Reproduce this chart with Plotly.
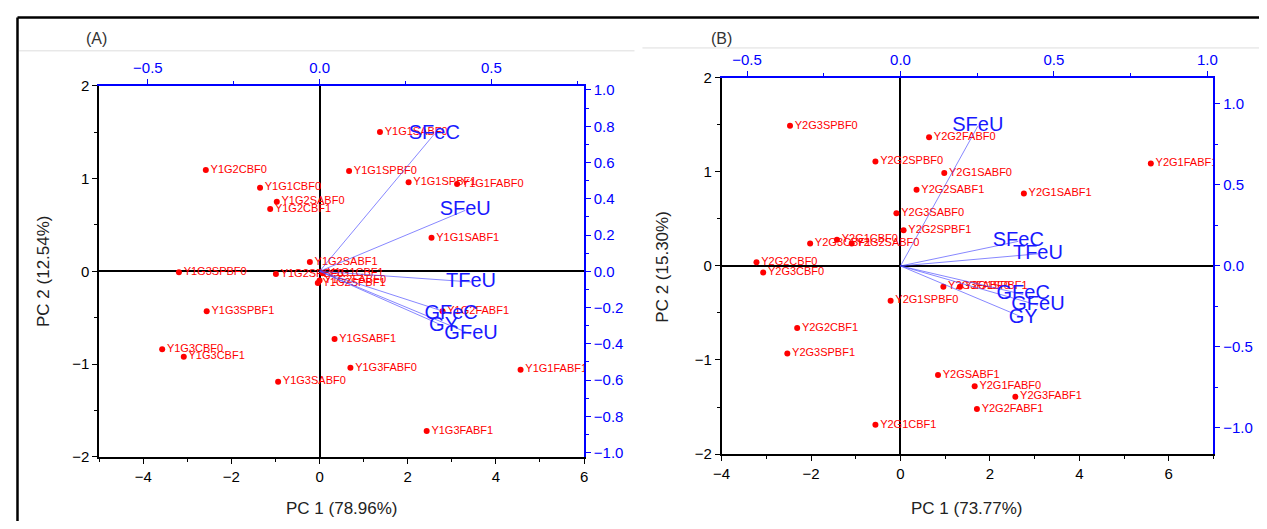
import plotly.graph_objects as go

# ---------------- Panel A data ----------------
a_labels = ["Y1G1SABF0", "Y1G2CBF0", "Y1G1CBF0", "Y1G2SABF0", "Y1G2CBF1", "Y1G2SABF1",
            "Y1G3SPBF0", "Y1G2SPBF0", "Y1G1CBF1", "Y1G2SPBF1", "Y1G2FABF0",
            "Y1G3SPBF1", "Y1G3CBF0", "Y1G3CBF1", "Y1G3SABF0", "Y1GSABF1", "Y1G3FABF0",
            "Y1G1FABF1", "Y1G3FABF1", "Y1G2FABF1", "Y1G1SPBF0", "Y1G1SPBF1", "Y1G1FABF0",
            "Y1G1SABF1"]
a_pc1 = [1.37, -2.58, -1.35, -0.97, -1.12, -0.22,
         -3.19, -0.99, 0.07, -0.04, 0.0,
         -2.56, -3.57, -3.08, -0.94, 0.34, 0.70,
         4.56, 2.43, 2.79, 0.67, 2.02, 3.12,
         2.54]
a_pc2 = [1.50, 1.09, 0.90, 0.75, 0.67, 0.10,
         -0.01, -0.03, -0.02, -0.125, -0.10,
         -0.43, -0.84, -0.92, -1.19, -0.73, -1.04,
         -1.06, -1.72, -0.43, 1.08, 0.96, 0.94,
         0.36]

a_vars = ["SFeC", "SFeU", "TFeU", "GFeC", "GY", "GFeU"]
a_load1 = [0.334, 0.424, 0.441, 0.383, 0.361, 0.441]
a_load2 = [0.757, 0.336, -0.059, -0.235, -0.302, -0.347]

# ---------------- Panel B data ----------------
b_labels = ["Y2G3SPBF0", "Y2G2FABF0", "Y2G2SPBF0", "Y2G1SABF0", "Y2G2SABF1", "Y2G1SABF1",
            "Y2G1FABF1", "Y2G3SABF0", "Y2G2SPBF1", "Y2G1CBF0", "Y2G3CBF1", "Y2G2SABF0",
            "Y2G2CBF0", "Y2G3CBF0", "Y2G1SPBF0", "Y2G2CBF1", "Y2G3SPBF1", "Y2G1CBF1",
            "Y2G3FABF0", "Y2G1SPBF1", "Y2GSABF1", "Y2G1FABF0", "Y2G3FABF1", "Y2G2FABF1"]
b_pc1 = [-2.47, 0.64, -0.56, 0.98, 0.36, 2.76,
         5.60, -0.09, 0.07, -1.42, -2.02, -1.09,
         -3.22, -3.07, -0.22, -2.31, -2.53, -0.56,
         0.96, 1.33, 0.84, 1.66, 2.57, 1.71]
b_pc2 = [1.49, 1.37, 1.11, 0.99, 0.81, 0.77,
         1.09, 0.56, 0.38, 0.28, 0.24, 0.24,
         0.04, -0.07, -0.37, -0.66, -0.93, -1.69,
         -0.22, -0.22, -1.16, -1.28, -1.39, -1.52]

b_vars = ["SFeU", "SFeC", "TFeU", "GFeC", "GFeU", "GY"]
b_load1 = [0.252, 0.384, 0.448, 0.40, 0.448, 0.40]
b_load2 = [0.863, 0.152, 0.075, -0.176, -0.242, -0.319]

FONT = "Liberation Sans, Arial, sans-serif"
RED = "rgb(255,0,0)"
BLUE = "rgb(25,25,255)"
LINEBLUE = "rgba(70,70,255,0.65)"

fig = go.Figure()

def add_panel(labels, pc1, pc2, vars_, l1, l2, xa, ya, xa2, ya2):
    for v, lx, ly in zip(vars_, l1, l2):
        fig.add_trace(go.Scatter(x=[0, lx], y=[0, ly], mode="lines",
                                 line=dict(color=LINEBLUE, width=1),
                                 xaxis=xa2, yaxis=ya2, hoverinfo="skip", showlegend=False))
    fig.add_trace(go.Scatter(x=pc1, y=pc2, mode="markers+text", text=labels,
                             textposition="middle right",
                             textfont=dict(family=FONT, size=11, color=RED),
                             marker=dict(color=RED, size=6),
                             xaxis=xa, yaxis=ya, showlegend=False))
    fig.add_trace(go.Scatter(x=l1, y=l2, mode="text", text=vars_,
                             textposition="middle center",
                             textfont=dict(family=FONT, size=20, color=BLUE),
                             xaxis=xa2, yaxis=ya2, showlegend=False))

add_panel(a_labels, a_pc1, a_pc2, a_vars, a_load1, a_load2, "x", "y", "x2", "y2")
add_panel(b_labels, b_pc1, b_pc2, b_vars, b_load1, b_load2, "x3", "y3", "x4", "y4")

# figure size chosen so that page (with 8px body margin) fits the window
OX, OY = 8, 8
W, H = 1251, 513
def px(sx):
    return (sx - OX) / W
def py(sy):
    return 1 - (sy - OY) / H

tickf = dict(family=FONT, size=15, color="black")
btickf = dict(family=FONT, size=15, color="blue")

common_black = dict(showgrid=False, showline=True, linecolor="black", linewidth=1.5,
                    ticks="outside", ticklen=5, tickwidth=1, tickcolor="black",
                    tickfont=tickf, zeroline=True, zerolinecolor="black", zerolinewidth=1.5,
                    minor=dict(ticks="outside", ticklen=3, tickcolor="black", tickwidth=1))
common_blue = dict(showgrid=False, showline=True, linecolor="blue", linewidth=1.5,
                   ticks="outside", ticklen=5, tickwidth=1, tickcolor="blue",
                   tickfont=btickf, zeroline=False,
                   minor=dict(ticks="outside", ticklen=3, tickcolor="blue", tickwidth=1))

axA_x = [px(91), px(581)]
axA_y = [py(463), py(79)]
axB_x = [px(720), px(1217)]
axB_y = [py(460), py(71)]

fig.update_layout(
    width=W, height=H, margin=dict(l=0, r=0, t=0, b=0),
    paper_bgcolor="white", plot_bgcolor="white",
    font=dict(family=FONT),
    xaxis=dict(domain=axA_x, anchor="y", range=[-5, 6], dtick=2, tick0=0,
               minor_dtick=1, **common_black),
    yaxis=dict(domain=axA_y, anchor="x", range=[-2, 2], dtick=1, tick0=0,
               minor_dtick=0.5, **common_black),
    xaxis2=dict(overlaying="x", anchor="y", side="top", range=[-0.642, 0.770],
                dtick=0.5, tick0=0, minor_dtick=0.25, tickformat=".1f", **common_blue),
    yaxis2=dict(overlaying="y", anchor="x", side="right", range=[-1.024, 1.024],
                dtick=0.2, tick0=0, minor_dtick=0.1, tickformat=".1f", **common_blue),
    xaxis3=dict(domain=axB_x, anchor="y3", range=[-4, 7], dtick=2, tick0=0,
                minor_dtick=1, **common_black),
    yaxis3=dict(domain=axB_y, anchor="x3", range=[-2, 2], dtick=1, tick0=0,
                minor_dtick=0.5, **common_black),
    xaxis4=dict(overlaying="x3", anchor="y3", side="top", range=[-0.583, 1.020],
                dtick=0.5, tick0=0, minor_dtick=0.25, tickformat=".1f", **common_blue),
    yaxis4=dict(overlaying="y3", anchor="x3", side="right", range=[-1.161, 1.161],
                dtick=0.5, tick0=0, minor_dtick=0.25, tickformat=".1f", **common_blue),
)

def ann(text, sx, sy, size, angle=0, color="#222"):
    return dict(text=text, x=px(sx), y=py(sy), xref="paper", yref="paper",
                xanchor="center", yanchor="middle", showarrow=False, textangle=angle,
                font=dict(family=FONT, size=size, color=color))

annotations = [
    ann("PC 1 (78.96%)", 336, 516, 17),
    ann("PC 2 (12.54%)", 35, 271, 17, -90),
    ann("PC 1 (73.77%)", 968, 516, 17),
    ann("PC 2 (15.30%)", 660, 266, 17, -90),
    ann("(A)", 88, 30, 16, color="#333"),
    ann("(B)", 720, 30, 16, color="#333"),
]
fig.update_layout(annotations=annotations)

shapes = [
    dict(type="line", xref="paper", yref="paper", x0=px(8.5), x1=px(8.5), y0=py(540), y1=py(8.5),
         line=dict(color="black", width=2.5)),
    dict(type="line", xref="paper", yref="paper", x0=px(8.5), x1=px(1280), y0=py(8.5), y1=py(8.5),
         line=dict(color="black", width=2.5)),
    dict(type="line", xref="paper", yref="paper", x0=px(10), x1=px(632), y0=py(43), y1=py(43),
         line=dict(color="#dddddd", width=1)),
    dict(type="line", xref="paper", yref="paper", x0=px(640), x1=px(1280), y0=py(40), y1=py(40),
         line=dict(color="#dddddd", width=1)),
]
fig.update_layout(shapes=shapes)

fig.write_html("out.html")
